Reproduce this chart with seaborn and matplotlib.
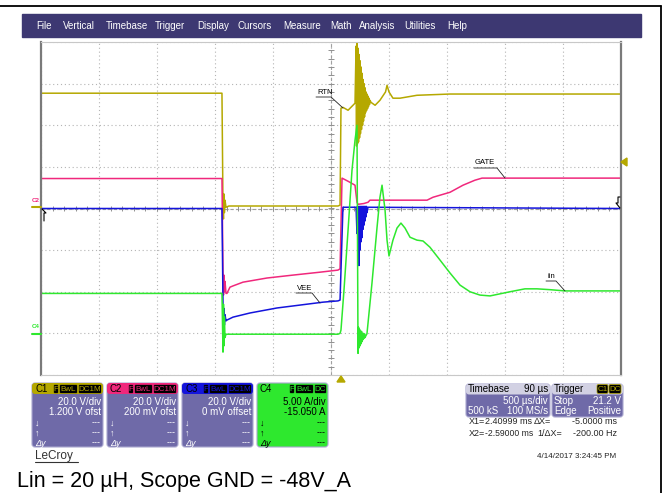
import numpy as np
import matplotlib
matplotlib.use("Agg")
import matplotlib.pyplot as plt
import seaborn as sns
from matplotlib.patches import FancyBboxPatch, Rectangle, Polygon

# Scope traces: time in microseconds, level in screen divisions (8 div tall)
c1Time = [-2500, -940, -931, -927, -923, -919, -914, -905, -880, 60, 78, 86, 103, 147, 207,
          216, 220, 224, 228, 233, 237, 241, 246, 250, 254, 259, 263, 267, 272, 276, 280,
          284, 289, 293, 297, 302, 306, 310, 315, 319, 323, 328, 332, 336, 345,
          380, 422, 470, 483, 500, 534, 595, 741, 1026, 2500]
c1Level = [2.77, 2.77, 0.0, -0.25, 0.35, -0.1, 0.2, 0.03, 0.06, 0.06, 0.08, 2.41, 2.43, 2.36, 2.53,
           3.9, 1.5, 4.0, 1.55, 3.85, 1.6, 3.7, 1.7, 3.55, 1.8, 3.4, 1.9, 3.25, 2.0, 3.1, 2.1,
           3.0, 2.2, 2.9, 2.3, 2.8, 2.35, 2.75, 2.4, 2.7, 2.45, 2.65, 2.5, 2.6, 2.55,
           2.48, 2.6, 2.8, 2.96, 2.8, 2.65, 2.65, 2.72, 2.75, 2.75]

c2Time = [-2500, -940, -931, -927, -923, -919, -914, -905, -897, -871, -845, -759, -552, -328,
          -95, 60, 78, 95, 150, 207, 224, 233, 284, 319, 336, 828, 879, 1026, 1138, 1241,
          1302, 2500]
c2Level = [0.72, 0.72, -1.5, -2.08, -1.6, -2.0, -1.75, -2.04, -2.04, -1.89, -1.86, -1.77, -1.67,
           -1.60, -1.53, -1.48, -1.45, 0.73, 0.65, 0.56, 0.15, 0.1, 0.12, 0.15, 0.2, 0.2, 0.27,
           0.39, 0.56, 0.68, 0.73, 0.73]

c3Time = [-2500, -940, -931, -927, -923, -919, -914, -905, -897, -845, -698, -466, -267, -69,
          60, 78, 103, 216, 224, 228, 233, 237, 241, 246, 250, 254, 259, 263, 267, 272, 276,
          280, 284, 289, 293, 297, 302, 306, 310, 319, 2500]
c3Level = [0.0, 0.0, -2.3, -2.86, -2.4, -2.8, -2.55, -2.7, -2.68, -2.61, -2.51, -2.39, -2.32,
           -2.25, -2.22, -2.2, 0.03, 0.03, -0.6, 0.05, -1.0, 0.05, -1.37, 0.05, -1.0, 0.05,
           -0.8, 0.05, -0.7, 0.05, -0.5, 0.05, -0.4, 0.05, -0.3, 0.05, -0.2, 0.05, -0.1, 0.03, 0.0]

c4Time = [-2500, -940, -931, -927, -923, -919, -914, -905, 60, 78, 86, 112, 147, 181, 207, 224,
          233, 237, 241, 246, 250, 254, 259, 263, 267, 272, 276, 280, 284, 289, 293, 302, 310,
          353, 397, 422, 440, 466, 483, 500, 534, 569, 603, 638, 681, 741, 793, 853, 940,
          1026, 1112, 1198, 1284, 1371, 1457, 1543, 1672, 1776, 1888, 2017, 2500]
c4Level = [-2.04, -2.04, -3.45, -2.3, -3.3, -2.6, -3.1, -3.02, -3.02, -3.0, -2.92, -1.96, -0.52,
           0.92, 1.64, 2.0, -3.48, -2.85, -3.35, -2.9, -3.3, -2.95, -3.25, -2.95, -3.2, -3.0,
           -3.15, -3.0, -3.12, -3.02, -3.1, -3.05, -3.01, -1.8, -0.45, 0.27, 0.56, -0.04,
           -0.76, -1.14, -0.76, -0.47, -0.35, -0.47, -0.69, -0.76, -0.78, -0.93, -1.24, -1.55,
           -1.84, -2.0, -2.08, -2.1, -2.05, -2.0, -1.93, -1.93, -1.95, -1.98, -1.98]

traceColors = ["#B5A800", "#F0287C", "#1414DC", "#2EE82E"]
menuItems = ["File", "Vertical", "Timebase", "Trigger", "Display", "Cursors", "Measure",
             "Math", "Analysis", "Utilities", "Help"]
chanBadges = [["F", "BwL", "DC1M"], ["F", "BwL", "DC1M"], ["F", "BwL", "DC1M"], ["F", "BwL", "DC"]]
chanScale = ["20.0 V/div", "20.0 V/div", "20.0 V/div", "5.00 A/div"]
chanOffset = ["1.200 V ofst", "200 mV ofst", "0 mV offset", "-15.050 A"]

sns.set_theme(style="white")
plt.rcParams["font.family"] = ["Liberation Sans", "DejaVu Sans"]

W, H = 671, 493
fig = plt.figure(figsize=(W / 100, H / 100), dpi=100)
fig.patch.set_facecolor("white")

# main scope grid
ax = fig.add_axes([41 / W, 1 - 375 / H, 580 / W, 333 / H])
ax.set_xlim(-2500, 2500)
ax.set_ylim(-4, 4)
ax.set_xticks(np.arange(-2500, 2501, 500))
ax.set_yticks(np.arange(-4, 5, 1))
ax.tick_params(length=0, labelbottom=False, labelleft=False)
ax.grid(True, color="#b4b4b4", linestyle=(0, (1, 2.5)), lw=0.8)
for side in ["left", "right"]:
    ax.spines[side].set_color("#7a7a7a")
    ax.spines[side].set_linewidth(1.6)
for side in ["top", "bottom"]:
    ax.spines[side].set_color("#c8c8c8")
    ax.spines[side].set_linewidth(0.8)
ax.axvline(0, color="#a0a0a0", lw=0.8, ls=(0, (3, 2)))
ax.axhline(0, color="#a0a0a0", lw=0.8, ls=(0, (3, 2)))
ax.hlines(np.arange(-4, 4.01, 0.2), -22, 22, color="#909090", lw=0.7)
ax.vlines(np.arange(-2500, 2501, 100), -0.06, 0.06, color="#909090", lw=0.7)

for tt, vv, col in zip([c1Time, c2Time, c3Time, c4Time], [c1Level, c2Level, c3Level, c4Level],
                       traceColors):
    sns.lineplot(x=tt, y=vv, ax=ax, color=col, lw=1.1, sort=False, estimator=None)

# overlay in pixel coordinates for the scope chrome
ov = fig.add_axes([0, 0, 1, 1], zorder=5)
ov.set_xlim(0, W)
ov.set_ylim(H, 0)
ov.axis("off")
ov.patch.set_alpha(0)

ov.plot([0, 661], [6, 6], color="black", lw=1.3)
ov.plot([661, 661], [6, H], color="black", lw=1.3)

ov.add_patch(Rectangle((22, 14), 619, 23, color="#3D3872"))
menuX = [36, 63, 106, 155, 197, 238, 283, 330, 359, 404, 447]
for name, mx in zip(menuItems, menuX):
    ov.text(mx, 26, name, color="white", fontsize=7, va="center")

# trace labels with leader lines
def tag(label, x, y, x2, y2, width):
    ov.text(x, y, label, fontsize=5.5, va="center", color="black")
    ov.plot([x - 1, x + width, x2], [y + 5, y + 5, y2], color="#222222", lw=0.6)

tag("RTN", 317, 92, 343, 108, 14)
tag("GATE", 475, 163, 505, 178, 22)
tag("VEE", 297, 288, 320, 303, 15)
tag("iin", 547, 276, 565, 291, 9)

# channel / trigger markers
ov.text(32, 201, "C2", color=traceColors[1], fontsize=4.5, fontweight="bold", va="center")
ov.plot([32, 41], [206.5, 206.5], color=traceColors[0], lw=1.5)
ov.text(32, 327, "C4", color=traceColors[3], fontsize=4.5, fontweight="bold", va="center")
ov.plot([32, 41], [334, 334], color=traceColors[3], lw=1.5)
ov.plot([42, 46, 44, 44], [209, 213, 213, 221], color="black", lw=0.8)
ov.plot([620, 616, 618, 618, 620], [208, 203, 203, 197, 197], color="black", lw=0.8)
ov.add_patch(Polygon([(337, 382), (345, 382), (341, 376)], color=traceColors[0]))
ov.add_patch(Polygon([(621, 162), (627, 158), (627, 166)], color=traceColors[0]))

# channel boxes
bodyColor = "#6F6AA8"
boxX = [32, 107, 182, 257]
for i, bx in enumerate(boxX):
    green = i == 3
    fill = traceColors[3] if green else bodyColor
    txt = "black" if green else "white"
    ov.add_patch(FancyBboxPatch((bx, 383), 71, 64, boxstyle="round,pad=0,rounding_size=3",
                                fc=fill, ec="#a9a7cf", lw=0.8))
    if not green:
        ov.add_patch(FancyBboxPatch((bx, 383), 71, 11, boxstyle="round,pad=0,rounding_size=3",
                                    fc=traceColors[i], ec="none"))
    ov.text(bx + 3, 389, f"C{i + 1}", fontsize=7, va="center", color="black")
    badges = chanBadges[i]
    widths = [6, 19, 24] if len(badges[2]) == 4 else [6, 19, 13]
    ex = bx + 70
    for lab, bw in zip(badges[::-1], widths[::-1]):
        ex -= bw
        ov.add_patch(FancyBboxPatch((ex + 0.5, 384.5), bw - 1, 9, boxstyle="round,pad=0,rounding_size=1.5",
                                    fc="black", ec=traceColors[i], lw=0.5))
        ov.text(ex + bw / 2, 389.3, lab, fontsize=5.8, ha="center", va="center",
                color=traceColors[i])
    ov.text(bx + 69, 402, chanScale[i], fontsize=7, ha="right", va="center", color=txt)
    ov.text(bx + 69, 412, chanOffset[i], fontsize=7, ha="right", va="center", color=txt)
    for sym, yy in zip(["↓", "↑", "Δy"], [423, 433, 443]):
        ov.text(bx + 3, yy, sym, fontsize=6.5, va="center", color=txt, style="italic")
        ov.text(bx + 69, yy, "---", fontsize=6.5, ha="right", va="center", color=txt)

# timebase and trigger boxes
for bx, bw in [(466, 84), (552, 71)]:
    ov.add_patch(FancyBboxPatch((bx, 384), bw, 33, boxstyle="round,pad=0,rounding_size=3",
                                fc=bodyColor, ec="#a9a7cf", lw=0.8))
    ov.add_patch(FancyBboxPatch((bx, 384), bw, 10.5, boxstyle="round,pad=0,rounding_size=3",
                                fc="#D2D1E3", ec="none"))
ov.text(468, 389, "Timebase", fontsize=7, va="center", color="black")
ov.text(548, 389, "90 µs", fontsize=7, ha="right", va="center", color="black")
ov.text(548, 401, "500 µs/div", fontsize=7, ha="right", va="center", color="white")
ov.text(468, 411, "500 kS", fontsize=7, va="center", color="white")
ov.text(548, 411, "100 MS/s", fontsize=7, ha="right", va="center", color="white")
ov.text(554, 389, "Trigger", fontsize=7, va="center", color="black")
for lab, lx, lw_ in [("C1", 597, 12), ("DC", 609, 13)]:
    ov.add_patch(FancyBboxPatch((lx, 384.5), lw_ - 1, 9, boxstyle="round,pad=0,rounding_size=1.5",
                                fc="black", ec=traceColors[0], lw=0.5))
    ov.text(lx + lw_ / 2 - 0.5, 389.3, lab, fontsize=5.8, ha="center", va="center", color=traceColors[0])
ov.text(554, 401, "Stop", fontsize=7, va="center", color="white")
ov.text(621, 401, "21.2 V", fontsize=7, ha="right", va="center", color="white")
ov.text(554, 411, "Edge", fontsize=7, va="center", color="white")
ov.text(621, 411, "Positive", fontsize=7, ha="right", va="center", color="white")

# cursor readout
ov.text(469, 422, "X1=", fontsize=6.5, va="center")
ov.text(532, 422, "2.40999 ms", fontsize=6.5, ha="right", va="center")
ov.text(551, 422, "ΔX=", fontsize=6.5, ha="right", va="center")
ov.text(617, 422, "-5.0000 ms", fontsize=6.5, ha="right", va="center")
ov.text(469, 434, "X2=", fontsize=6.5, va="center")
ov.text(533, 434, "-2.59000 ms", fontsize=6.2, ha="right", va="center")
ov.text(562, 434, "1/ΔX=", fontsize=6.5, ha="right", va="center")
ov.text(617, 434, "-200.00 Hz", fontsize=6.5, ha="right", va="center")

ov.text(35, 456, "LeCroy", fontsize=8.5, va="center", color="#333333")
ov.plot([35, 78], [462, 462], color="#333333", lw=0.8)
ov.text(616, 457, "4/14/2017 3:24:45 PM", fontsize=5.8, ha="right", va="center", color="#222222")
ov.text(17, 481, "Lin = 20 µH, Scope GND = -48V_A", fontsize=15.5, va="center", color="black")

fig.savefig("out.png", dpi=100, facecolor="white")
